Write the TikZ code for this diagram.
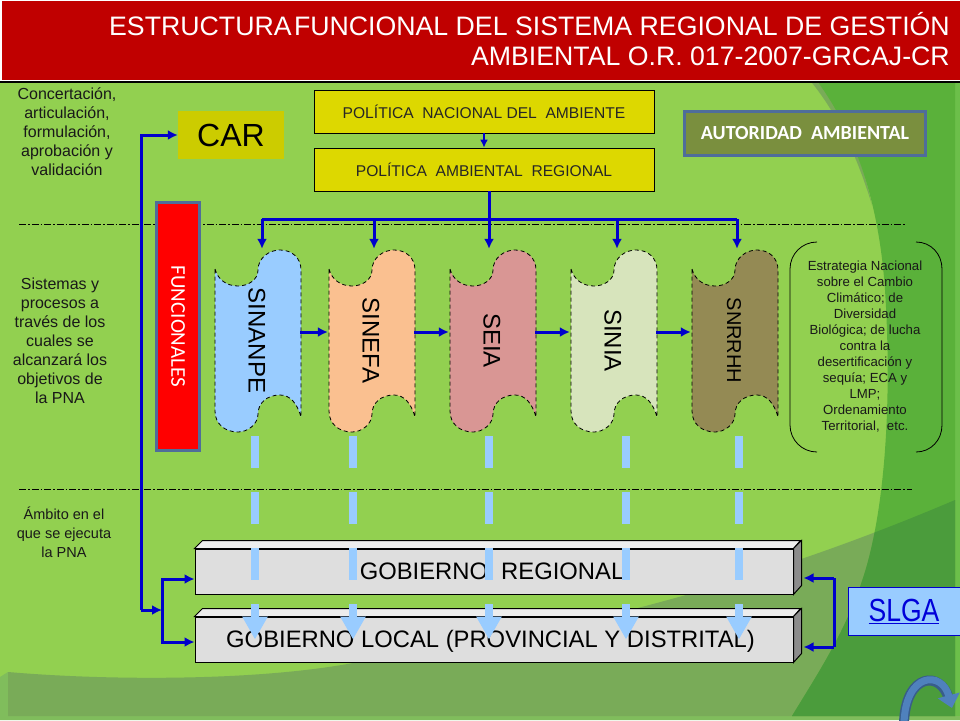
\documentclass[tikz,border=0pt]{standalone}
\usepackage{fontspec}
\usepackage{graphicx}
\setmainfont{Liberation Sans}
\newfontfamily\carlito{Carlito}
\usetikzlibrary{arrows.meta}
\definecolor{fondo}{HTML}{92D050}
\definecolor{oscuro}{HTML}{5AB13A}
\definecolor{banda}{HTML}{79AB58}
\definecolor{bandaosc}{HTML}{4B9C3C}
\definecolor{borde}{HTML}{6CBF4A}
\definecolor{bordeabajo}{HTML}{80BD5C}
\definecolor{azul}{HTML}{0000CC}
\definecolor{claro}{HTML}{99CCFF}
\definecolor{marco}{HTML}{4F6D9A}
\definecolor{rojotitulo}{HTML}{C00000}
\definecolor{amarillo}{HTML}{DDD800}
\definecolor{amarillocar}{HTML}{CCCC00}
\definecolor{oliva}{HTML}{7A8F3E}
\definecolor{salmon}{HTML}{FAC090}
\definecolor{rosa}{HTML}{D99694}
\definecolor{palido}{HTML}{D7E4BC}
\definecolor{pardo}{HTML}{948A54}
\definecolor{curva}{HTML}{4F81BD}
\definecolor{curvaosc}{HTML}{385D8A}
\tikzset{
    flecha/.style={draw=azul,line width=3pt,-{Latex[length=10pt,width=10pt]}},
    linea/.style={draw=azul,line width=3pt},
    bajada/.style={draw=claro,line width=8pt,dash pattern=on 32pt off 24pt,-{Triangle[length=23pt,width=24pt]}},
    division/.style={draw=black,line width=.7pt,dash pattern=on 7pt off 2pt on 1.5pt off 2pt},
    politica/.style={draw=black,fill=amarillo,line width=.8pt,minimum width=340pt,minimum height=43pt,inner sep=0pt,text=black!85,font=\fontsize{15.6}{17}\selectfont},
    nota/.style={align=center,inner sep=0pt,text=black!90,font=\fontsize{16}{19}\selectfont},
    gobierno/.style={draw=black,fill=black!13,line width=1pt,minimum width=598pt,minimum height=45pt,inner sep=0pt},
    rotulo/.style={inner sep=0pt,font=\fontsize{23.8}{26}\selectfont},
    sistema/.style={minimum width=86pt,minimum height=183pt,inner sep=0pt}
}
% forma de cada sistema: x, nombre, relleno, texto
\newcommand{\onda}[5][\fontsize{24}{26}\selectfont]{
    \draw[fill=#4,draw=black,line width=.8pt,dash pattern=on 4pt off 3pt,shift={(#2,249)}](0,20)..controls(3,31)and(12,37)..(23,37)
        ..controls(33,37)and(43,31)..(43,21)..controls(43,9)and(54,1)..(65,1)..controls(77,1)and(86,9)..(86,21)
        --(86,168)..controls(82,154)and(75,146)..(65,146)..controls(52,146)and(43,154)..(43,165)
        ..controls(43,175)and(33,183)..(23,183)..controls(10,183)and(0,175)..(0,162)--cycle;
    \node[sistema,font=#1](#3)at(#2+42,340.5){\rotatebox{-90}{#5}};
}
% caja con relieve
\newcommand{\relieve}[1]{
    \draw[fill=black!7,line width=1pt](#1.north west)--++(8,-8)--++(598,0)--(#1.north east)--cycle;
    \draw[fill=black!45,line width=1pt](#1.north east)--++(8,-8)--++(0,45)--(#1.south east)--cycle;
}
\begin{document}
\begin{tikzpicture}[x=1pt,y=-1pt]
    \useasboundingbox(0,0)rectangle(960,720);
    % fondo
    \fill[fondo](0,0)rectangle(960,720);
    \fill[bordeabajo](0,677)--(8,672)--(8,716)--(960,716)--(960,720)--(0,720)--cycle;
    \fill[borde](955,78)rectangle(960,716);
    \fill[banda](808,78)..controls(835,110)and(855,150)..(872,205)..controls(860,150)and(840,110)..(820,78)--cycle;
    \fill[banda](8,672)..controls(100,680)and(250,682)..(353,663)..controls(520,640)and(720,600)..(955,500)--(955,716)--(8,716)--cycle;
    \fill[oscuro](815,78)..controls(850,125)and(878,190)..(885,290)..controls(892,400)and(885,500)..(867,565)
        ..controls(850,625)and(820,670)..(792,716)--(955,716)--(955,78)--cycle;
    \begin{scope}
        \clip(815,78)..controls(850,125)and(878,190)..(885,290)..controls(892,400)and(885,500)..(867,565)
            ..controls(850,625)and(820,670)..(792,716)--(955,716)--(955,78)--cycle;
        \fill[bandaosc](353,663)..controls(520,640)and(720,600)..(955,500)--(955,716)--(353,716)--cycle;
    \end{scope}
    % titulo
    \fill[black](0,81)rectangle(960,82.5);
    \fill[white](0,0)rectangle(960,81);
    \node[fill=rojotitulo,minimum width=958pt,minimum height=79pt,inner sep=0pt](titulo)at(480.5,40.5){};
    \node[anchor=east,align=right,text=white,inner sep=0pt,font=\fontsize{26.7}{30}\selectfont](tituloTexto)at(950,39.5){ESTRUCTURA\hspace{-5pt} FUNCIONAL DEL SISTEMA REGIONAL DE GESTIÓN\\AMBIENTAL O.R. 017-2007-GRCAJ-CR};
    % divisiones
    \draw[division](19,224)--(905,224);
    \draw[division](19,489)--(912,489);
    % textos de la izquierda
    \node[nota](notaA)at(67,132){Concertación,\\articulación,\\formulación,\\aprobación y\\validación};
    \node[nota](notaB)at(60,341){Sistemas y\\procesos a\\través de los\\cuales se\\alcanzará los\\objetivos de\\la PNA};
    \node[nota,font=\fontsize{14.5}{19}\selectfont](notaC)at(64,532){Ámbito en el\\que se ejecuta\\la PNA};
    % cajas de arriba
    \node[fill=amarillocar,minimum width=106pt,minimum height=48pt,inner sep=0pt,font=\fontsize{32}{34}\selectfont](car)at(231,135){CAR};
    \node[politica](nacional)at(484,111.5){POLÍTICA\ \ NACIONAL DEL\ \ AMBIENTE};
    \node[politica](regional)at(484,169.5){POLÍTICA\ \ AMBIENTAL\ \ REGIONAL};
    \node[draw=marco,fill=oliva,line width=3pt,minimum width=241pt,minimum height=44pt,inner sep=0pt,text=white,font=\carlito\bfseries\fontsize{20}{22}\selectfont](autoridad)at(805,133.5){AUTORIDAD\ \ AMBIENTAL};
    \node[draw=marco,fill=red,line width=3pt,minimum width=43pt,minimum height=248pt,inner sep=0pt,text=white,font=\carlito\fontsize{21}{23}\selectfont](funcionales)at(178,326.5){\rotatebox{-90}{FUNCIONALES}};
    % sistemas
    \onda{215}{sinanpe}{claro}{SINANPE}
    \onda{329}{sinefa}{salmon}{SINEFA}
    \onda{450}{seia}{rosa}{SEIA}
    \onda{571}{sinia}{palido}{SINIA}
    \onda[\fontsize{20}{22}\selectfont]{692}{snrrhh}{pardo}{SNRRHH}
    % estrategia
    \node[align=center,inner sep=0pt,text=black!90,font=\fontsize{13.2}{16}\selectfont](estrategia)at(865,347){Estrategia Nacional\\sobre el Cambio\\Climático; de\\Diversidad\\Biológica; de lucha\\contra la\\desertificación y\\sequía; ECA y\\LMP;\\Ordenamiento\\Territorial,\ \ etc.};
    \draw[line width=.8pt](817,242)..controls(802,242)and(790,254)..(790,269)--(790,425)..controls(790,440)and(802,452)..(817,452);
    \draw[line width=.8pt](916,242)..controls(931,242)and(942,254)..(942,269)--(942,425)..controls(942,440)and(931,452)..(916,452);
    % gobiernos
    \node[gobierno](gregional)at(494,571.5){};
    \relieve{gregional}
    \node[rotulo](tregional)at(492,571){GOBIERNO\ \ REGIONAL};
    \node[gobierno](glocal)at(494,639.5){};
    \relieve{glocal}
    \node[rotulo](tlocal)at(490.5,641){GOBIERNO LOCAL (PROVINCIAL Y DISTRITAL)};
    \node[draw=azul,fill=claro,line width=.8pt,minimum width=114pt,minimum height=48pt,inner sep=0pt](slga)at(905,611){\hspace{-2pt}\textcolor{blue!85!black}{\scalebox{.83}[1]{\fontsize{32}{34}\selectfont\underline{SLGA}}}};
    % conectores
    \draw[flecha,line width=2pt,-{Latex[length=8pt,width=8pt]}](nacional)--(regional);
    \coordinate(busA)at(262,219);\coordinate(busB)at(374,219);\coordinate(busC)at(489,219);\coordinate(busD)at(617,219);\coordinate(busE)at(737,219);
    \draw[linea](busC|-regional.south)--(busC);
    \draw[linea](busA)--(busE);
    \draw[flecha](busA)--(busA|-sinanpe.north);
    \draw[flecha](busB)--(busB|-sinefa.north);
    \draw[flecha](busC)--(busC|-seia.north);
    \draw[flecha](busD)--(busD|-sinia.north);
    \draw[flecha](busE)--(busE|-snrrhh.north);
    \draw[flecha]([yshift=8.5pt]sinanpe.east)--([yshift=8.5pt]sinefa.west);
    \draw[flecha]([yshift=8.5pt]sinefa.east)--([yshift=8.5pt]seia.west);
    \draw[flecha]([yshift=8.5pt]seia.east)--([yshift=8.5pt]sinia.west);
    \draw[flecha]([yshift=8.5pt]sinia.east)--([yshift=8.5pt]snrrhh.west);
    \coordinate(entrada)at(141,610);\coordinate(ramaA)at(162,579);\coordinate(ramaB)at(162,642);\coordinate(rama)at(162,610);
    \draw[flecha](entrada)|-(car.west);
    \draw[flecha](entrada)--(rama);
    \draw[flecha](rama)|-(ramaA-|gregional.west);
    \draw[flecha](rama)|-(ramaB-|glocal.west);
    \coordinate(derA)at(834,578);\coordinate(derB)at(834,647);
    \draw[linea](derA)--(derB);
    \draw[flecha](derA)--([xshift=10pt]derA-|gregional.east);
    \draw[flecha](derB)--([xshift=10pt]derB-|glocal.east);
    % bajadas
    \foreach \nombre/\px in {A/255,B/353,C/489,D/626,E/739}{
        \coordinate(baja\nombre)at(\px,436);
        \draw[bajada](baja\nombre)--(baja\nombre|-glocal.center);
    }
    % flecha curva
    \draw[curvaosc,line width=10pt](904,724)..controls(905,672)and(942,670)..(949,700);
    \draw[curva,line width=7pt,-{Triangle[length=13pt,width=22pt]}](904,724)..controls(905,672)and(942,670)..(952,708);
\end{tikzpicture}
\end{document}
